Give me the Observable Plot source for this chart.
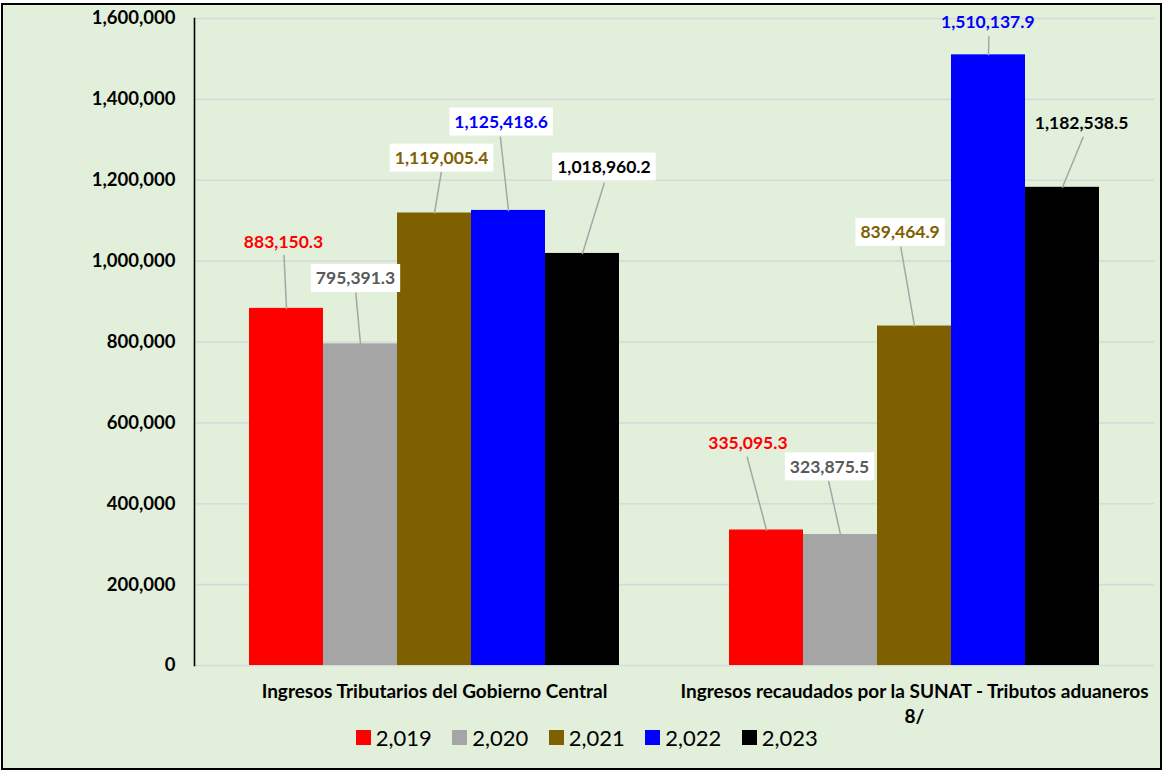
<!DOCTYPE html>
<html>
<head>
<meta charset="utf-8">
<script src="https://cdn.jsdelivr.net/npm/d3@7"></script>
<script src="https://cdn.jsdelivr.net/npm/@observablehq/plot@0.6"></script>
<style>
  html, body { margin: 0; padding: 0; background: #fff; }
  #frame {
    position: absolute; left: 1px; top: 3px;
    width: 1157px; height: 763px;
    border: 2px solid #000; background: #E2EFDA;
    overflow: hidden;
  }
  #legend { position: absolute; left: 0; top: 719px; width: 1157px; display: flex; justify-content: center; padding-left: 31px; box-sizing: border-box; }
  .leg-swatches { font-family: Lato, sans-serif !important; font-size: 22px !important; color: #000 !important; min-height: 26px !important; margin: 0 !important; }
  .leg-swatch { margin-right: 20.5px !important; }
  .leg-swatch svg { margin-right: 5px !important; }
</style>
</head>
<body>
<div id="frame">
  <div id="chart"></div>
  <div id="legend"></div>
</div>
<script>
// ---- data ----
const categories = [
  "Ingresos Tributarios del Gobierno Central",
  "Ingresos recaudados por la SUNAT - Tributos aduaneros 8/"
];
const years = ["2,019", "2,020", "2,021", "2,022", "2,023"];
const tributarios = [883150.3, 795391.3, 1119005.4, 1125418.6, 1018960.2];
const aduaneros = [335095.3, 323875.5, 839464.9, 1510137.9, 1182538.5];
const yTicks = [0, 200000, 400000, 600000, 800000, 1000000, 1200000, 1400000, 1600000];

// ---- styles / annotation layout (pixels) ----
const barColors = ["#FF0000", "#A5A5A5", "#7F6000", "#0000FF", "#000000"];
const labelColors = ["#FF0000", "#595959", "#806000", "#0000FF", "#000000"];
const labelOffsets = [[-3,-66],[-5,-65],[7,-54.5],[-7.4,-88],[21.4,-86],[-18.6,-86.2],[-11,-67.3],[-14.4,-93.3],[-0.7,-32.6],[19,-63.5]];
const leaderEnds = [[-2.5,-53],[-4.7,-50.7],[6.8,-40.8],[-8.1,-73.2],[21.7,-70.3],[-19.3,-72.8],[-11.8,-53],[-13.7,-78.9],[0.4,-18.3],[20.6,-50.1]];
const boxed = [false,true,true,true,true,false,true,true,false,false];

const series = [tributarios, aduaneros];
const table = [];
categories.forEach((c, ci) => years.forEach((y, yi) => table.push({cat: c, year: y, value: series[ci][yi], yi})));

const fmt = d3.format(",.1f");
const FONT = "Lato, 'Open Sans', sans-serif";
const lineShape = {draw(context, l) { context.moveTo(0, 0); context.lineTo(0, -l); }};

const leaderMarks = table.map((d, i) => {
  const [lx, ly] = leaderEnds[i];
  return Plot.vector([d], {
    fx: "cat", x: "year", y: "value",
    length: Math.hypot(lx, ly),
    rotate: Math.atan2(lx, -ly) * 180 / Math.PI,
    anchor: "start", shape: lineShape,
    stroke: "#A6A6A6", strokeWidth: 1.5
  });
});
const labelMarks = table.map((d, i) => Plot.text([d], {
  fx: "cat", x: "year", y: "value",
  text: (r) => fmt(r.value),
  dx: labelOffsets[i][0], dy: labelOffsets[i][1],
  fill: labelColors[d.yi], fontSize: 17.5, fontWeight: "bold"
}));

const chart = Plot.plot({
  width: 1157, height: 720,
  marginTop: 13, marginBottom: 60, marginLeft: 190, marginRight: 6,
  style: {background: "transparent", fontFamily: FONT, overflow: "visible", color: "#000"},
  fx: {domain: categories, padding: 0, axis: null, label: null},
  x: {domain: years, paddingInner: 0, paddingOuter: 0.738, axis: null},
  y: {domain: [0, 1600000], axis: null},
  color: {domain: years, range: barColors},
  marks: [
    Plot.gridY(yTicks, {stroke: "#D9D9D9", strokeOpacity: 1, strokeWidth: 1.6}),
    Plot.barY(table, {fx: "cat", x: "year", y: "value", fill: "year"}),
    Plot.frame({anchor: "left", facetAnchor: "left", stroke: "#000", strokeWidth: 1.6}),
    Plot.axisY(yTicks, {tickSize: 0, tickPadding: 19, tickFormat: d3.format(","), fontSize: 18.5, fontWeight: "bold", fill: "#000", label: null}),
    Plot.axisFx({anchor: "bottom", tickSize: 0, tickPadding: 15, fontSize: 19, fontWeight: "bold", fill: "#000", label: null, lineHeight: 1.3,
      tickFormat: (d) => d.replace(" 8/", "\n8/")}),
    ...leaderMarks,
    ...labelMarks
  ]
});
document.getElementById("chart").appendChild(chart);

// white boxes behind selected labels (matched by their text)
const boxedTexts = new Set(table.filter((d, i) => boxed[i]).map(d => fmt(d.value)));
function addBoxes() {
  chart.querySelectorAll("rect.lblbox").forEach(r => r.remove());
  chart.querySelectorAll("text").forEach(t => {
    if (!boxedTexts.has(t.textContent.trim())) return;
    const b = t.getBBox();
    const r = document.createElementNS("http://www.w3.org/2000/svg", "rect");
    const h = 28, w = b.width + 10;
    r.setAttribute("class", "lblbox");
    r.setAttribute("x", b.x - 5);
    r.setAttribute("y", b.y + b.height / 2 - h / 2);
    r.setAttribute("width", w);
    r.setAttribute("height", h);
    r.setAttribute("fill", "#fff");
    const tr = t.getAttribute("transform");
    if (tr) r.setAttribute("transform", tr);
    t.parentNode.insertBefore(r, t);
  });
}
addBoxes();
if (document.fonts && document.fonts.ready) document.fonts.ready.then(addBoxes);

const legend = Plot.legend({
  color: {domain: years, range: barColors},
  swatchSize: 15, className: "leg"
});
document.getElementById("legend").appendChild(legend);
</script>
</body>
</html>
